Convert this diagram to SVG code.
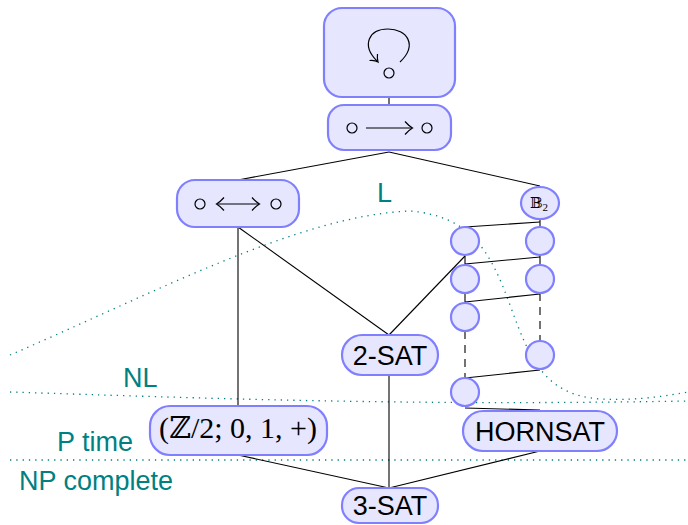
<svg xmlns="http://www.w3.org/2000/svg" width="688" height="525" viewBox="0 0 688 525">
<style>
.node{fill:#e6e6ff;stroke:#8080ff;stroke-width:2.2}
.ln{stroke:#000;stroke-width:1.1;fill:none}
.dash{stroke:#000;stroke-width:1.1;fill:none;stroke-dasharray:8 6}
.dot{stroke:#008080;stroke-width:1.3;fill:none;stroke-dasharray:1.3 5}
.lbl{fill:#008080;font-family:"Liberation Sans",Arial,sans-serif;font-size:27px}
.t{fill:#000;font-family:"Liberation Sans",Arial,sans-serif;font-size:27px;text-anchor:middle}
.m{fill:#000;font-family:"Liberation Serif","DejaVu Serif",serif;text-anchor:middle}
.sym{stroke:#000;stroke-width:1.2;fill:none}
</style>
<rect width="688" height="525" fill="#fff"/>
<g id="regions">
<path class="dot" d="M 10 355 C 150 295, 300 215, 410 211 C 470 216, 490 250, 510 305 C 530 360, 545 395, 600 399 C 640 401, 670 395, 688 392"/>
<path class="dot" d="M 10 392 C 200 398, 400 406, 688 401"/>
<path class="dot" d="M 10 460 L 688 460"/>
<text class="lbl" x="377" y="202">L</text>
<text class="lbl" x="123" y="387">NL</text>
<text class="lbl" x="57" y="451">P time</text>
<text class="lbl" x="19" y="490">NP complete</text>
</g>
<g id="connectors">
<line class="ln" x1="389" y1="97" x2="389" y2="105"/>
<line class="ln" x1="389" y1="152" x2="238" y2="180"/>
<line class="ln" x1="389" y1="152" x2="540" y2="186"/>
<line class="ln" x1="238" y1="227" x2="238" y2="406"/>
<line class="ln" x1="238" y1="227" x2="389" y2="335"/>
<line class="ln" x1="465" y1="256" x2="389" y2="335"/>
<line class="ln" x1="389" y1="375" x2="389" y2="488"/>
<line class="ln" x1="238" y1="455" x2="389" y2="488"/>
<line class="ln" x1="540" y1="451" x2="389" y2="488"/>
<line class="ln" x1="540" y1="220" x2="540" y2="227"/>
<line class="ln" x1="540" y1="222" x2="465" y2="227"/>
<line class="ln" x1="540" y1="255" x2="540" y2="265"/>
<line class="ln" x1="540" y1="257" x2="465" y2="264"/>
<line class="ln" x1="465" y1="255" x2="465" y2="265"/>
<line class="ln" x1="465" y1="293" x2="465" y2="303"/>
<line class="ln" x1="540" y1="294" x2="465" y2="302"/>
<line class="dash" x1="540" y1="293" x2="540" y2="341"/>
<line class="dash" x1="465" y1="331" x2="465" y2="378"/>
<line class="ln" x1="540" y1="370" x2="465" y2="378"/>
<line class="ln" x1="465" y1="408" x2="540" y2="410"/>
</g>
<g id="n-loop">
<rect class="node" x="324" y="8" width="131" height="89" rx="18"/>
<path class="sym" d="M 400 62 C 418 45, 407 29, 388 29 C 369 29, 361 45, 377 61"/>
<path class="sym" d="M 369.5 60.5 Q 375 60 378 62 Q 377 58 377.5 54"/>
<circle class="sym" cx="389" cy="73" r="5"/>
</g>
<g id="n-arrow">
<rect class="node" x="328" y="105" width="123" height="45" rx="16"/>
<circle class="sym" cx="352" cy="128" r="5"/>
<circle class="sym" cx="427" cy="128" r="5"/>
<line class="sym" x1="366" y1="128" x2="412" y2="128"/>
<path class="sym" d="M 405 121.5 Q 409 126 412.5 128 Q 409 130 405 134.5"/>
</g>
<g id="n-biarrow">
<rect class="node" x="177" y="180" width="122" height="47" rx="18"/>
<circle class="sym" cx="200" cy="204" r="5"/>
<circle class="sym" cx="276" cy="204" r="5"/>
<line class="sym" x1="217" y1="204" x2="259" y2="204"/>
<path class="sym" d="M 252 197.5 Q 256 202 259.5 204 Q 256 206 252 210.5"/>
<path class="sym" d="M 224 197.5 Q 220 202 216.5 204 Q 220 206 224 210.5"/>
</g>
<g id="n-b2">
<ellipse class="node" cx="540" cy="203" rx="19" ry="16"/>
<text class="m" x="539" y="208" font-size="15" font-family="'DejaVu Serif','DejaVu Sans',serif">𝔹<tspan font-size="11" dy="3">2</tspan></text>
</g>
<g id="n-l1"><circle class="node" cx="465" cy="241" r="14"/></g>
<g id="n-l2"><circle class="node" cx="465" cy="279" r="14"/></g>
<g id="n-l3"><circle class="node" cx="465" cy="317" r="14"/></g>
<g id="n-l4"><circle class="node" cx="465" cy="392" r="14"/></g>
<g id="n-r1"><circle class="node" cx="540" cy="241" r="14"/></g>
<g id="n-r2"><circle class="node" cx="540" cy="279" r="14"/></g>
<g id="n-r3"><circle class="node" cx="540" cy="355" r="14"/></g>
<g id="n-2sat">
<rect class="node" x="342" y="335" width="96" height="40" rx="20"/>
<text class="t" x="390" y="365">2-SAT</text>
</g>
<g id="n-z2">
<rect class="node" x="150" y="406" width="177" height="49" rx="20"/>
<text class="m" x="238" y="438" font-size="30">(ℤ/2; 0, 1, +)</text>
</g>
<g id="n-hornsat">
<rect class="node" x="463" y="411" width="154" height="40" rx="20"/>
<text class="t" x="540" y="441">HORNSAT</text>
</g>
<g id="n-3sat">
<rect class="node" x="342" y="488" width="96" height="35" rx="17"/>
<text class="t" x="390" y="515">3-SAT</text>
</g>
</svg>
